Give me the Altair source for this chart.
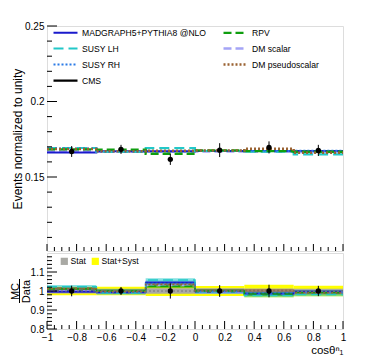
import altair as alt
import pandas as pd

# ---------------- data ----------------
edges = [-1.0, -0.6667, -0.3333, 0.0, 0.3333, 0.6667, 1.0]
centers = [-0.8333, -0.5, -0.1667, 0.1667, 0.5, 0.8333]

models = ["MADGRAPH5+PYTHIA8 @NLO", "RPV", "SUSY LH", "DM scalar", "SUSY RH", "DM pseudoscalar"]
# legend is filled column by column (2 columns, 4 rows)
legend_order = ["MADGRAPH5+PYTHIA8 @NLO", "SUSY LH", "SUSY RH", "CMS", "RPV", "DM scalar", "DM pseudoscalar"]
draw_order = ["DM scalar", "MADGRAPH5+PYTHIA8 @NLO", "SUSY LH", "SUSY RH", "RPV", "DM pseudoscalar"]

# normalized distributions (top panel)
mg = [0.1663, 0.1671, 0.1671, 0.1673, 0.1672, 0.1672]
rpv = [0.1683, 0.1681, 0.1654, 0.1676, 0.1671, 0.1667]
susy_lh = [0.1692, 0.1666, 0.1691, 0.1672, 0.1667, 0.1650]
dm_scalar = [0.1669, 0.1667, 0.1667, 0.1669, 0.1667, 0.1666]
susy_rh = [0.1689, 0.1670, 0.1671, 0.1673, 0.1672, 0.1673]
dm_pseudo = [0.1686, 0.1670, 0.1674, 0.1675, 0.1687, 0.1661]

cms = [0.1669, 0.1683, 0.1617, 0.1678, 0.1696, 0.1676]
cms_err = [0.0036, 0.0030, 0.0037, 0.0046, 0.0040, 0.0037]

# ratio panel (MC / Data)
r_mg = [0.998, 0.993, 1.045, 0.998, 0.985, 0.996]
r_rpv = [1.010, 1.000, 1.025, 1.000, 0.984, 0.992]
r_susy_lh = [1.022, 0.990, 1.058, 0.996, 0.976, 0.982]
r_dm_scalar = [1.002, 0.992, 1.030, 0.993, 0.985, 0.992]
r_susy_rh = [1.010, 0.995, 1.040, 0.998, 0.990, 0.996]
r_dm_pseudo = [1.012, 0.996, 1.036, 1.000, 1.002, 0.992]
r_band_half = [0.009, 0.009, 0.009, 0.009, 0.009, 0.009]

stat_half = [0.013, 0.012, 0.014, 0.014, 0.013, 0.012]
syst_half = [0.022, 0.023, 0.026, 0.026, 0.033, 0.028]
ratio_err = [0.028, 0.021, 0.040, 0.031, 0.033, 0.027]

# axis ticks
x_major = [-1, -0.8, -0.6, -0.4, -0.2, 0, 0.2, 0.4, 0.6, 0.8, 1]
x_minor = [-0.95, -0.9, -0.85, -0.75, -0.7, -0.65, -0.55, -0.5, -0.45, -0.35, -0.3, -0.25,
           -0.15, -0.1, -0.05, 0.05, 0.1, 0.15, 0.25, 0.3, 0.35, 0.45, 0.5, 0.55,
           0.65, 0.7, 0.75, 0.85, 0.9, 0.95]
y_top_major = [0.15, 0.2, 0.25]
y_top_minor = [0.11, 0.12, 0.13, 0.14, 0.16, 0.17, 0.18, 0.19, 0.21, 0.22, 0.23, 0.24]
y_bot_major = [0.8, 0.9, 1.0, 1.1]
y_bot_minor = [0.82, 0.84, 0.86, 0.88, 0.92, 0.94, 0.96, 0.98, 1.02, 1.04, 1.06, 1.08,
               1.12, 1.14, 1.16, 1.18]

# styles (same order as legend_order)
colors = ["#1a1acc", "#22c8c8", "#2a7ae6", "#000000", "#0f9e0f", "#a4a4f6", "#9a6232"]
dashes = [[1, 0], [10, 5], [2, 2], [1, 0], [8, 4], [8, 4], [2, 2]]
widths = [2, 2.5, 2, 1, 2.5, 3, 2]

W, H_TOP, H_BOT = 296, 225, 76
FONT = "Liberation Sans"

top_vals = dict(zip(models, [mg, rpv, susy_lh, dm_scalar, susy_rh, dm_pseudo]))
rat_vals = dict(zip(models, [r_mg, r_rpv, r_susy_lh, r_dm_scalar, r_susy_rh, r_dm_pseudo]))


def step_rows(vals_by_model):
    rows = []
    for m in draw_order:
        v = vals_by_model[m]
        for i in range(6):
            rows.append({"model": m, "x": edges[i], "v": v[i]})
        rows.append({"model": m, "x": edges[6], "v": v[5]})
    return pd.DataFrame(rows)


top_lines = step_rows(top_vals)
bot_lines = step_rows(rat_vals)

cms_df = pd.DataFrame({"x": centers, "v": cms,
                       "lo": [c - e for c, e in zip(cms, cms_err)],
                       "hi": [c + e for c, e in zip(cms, cms_err)]})
ratio_pts = pd.DataFrame({"x": centers, "v": [1.0] * 6,
                          "lo": [1 - e for e in ratio_err],
                          "hi": [1 + e for e in ratio_err]})

band_rows = []
for i in range(6):
    band_rows.append({"band": "Stat+Syst", "x": edges[i], "x2": edges[i + 1],
                      "lo": 1 - syst_half[i], "hi": 1 + syst_half[i]})
for i in range(6):
    band_rows.append({"band": "Stat", "x": edges[i], "x2": edges[i + 1],
                      "lo": 1 - stat_half[i], "hi": 1 + stat_half[i]})
bands_df = pd.DataFrame(band_rows)

mrows = []
for m in draw_order:
    for i in range(6):
        mrows.append({"model": m, "x": edges[i], "x2": edges[i + 1],
                      "lo": rat_vals[m][i] - r_band_half[i], "hi": rat_vals[m][i] + r_band_half[i]})
model_bands = pd.DataFrame(mrows)

# ---------------- scales / axes ----------------
xs = alt.Scale(domain=[-1, 1], nice=False, zero=False)
ys_top = alt.Scale(domain=[0.101, 0.25], nice=False, zero=False)
ys_bot = alt.Scale(domain=[0.8, 1.2], nice=False, zero=False)

ax_top_y = alt.Axis(values=y_top_major, format="~g", ticks=False, domain=False, grid=False,
                    labelPadding=3, labelFlush=False, labelOverlap=False,
                    title="Events normalized to unity", titleX=-26, titleBaseline="alphabetic",
                    titleFontSize=12, titleFontWeight="normal")
ax_bot_y = alt.Axis(values=y_bot_major, format="~g", ticks=False, domain=False, grid=False,
                    labelPadding=3, labelFlush=False, labelOverlap=False,
                    title=["MC", "Data"], titleX=-29, titleBaseline="alphabetic",
                    titleFontSize=11, titleLineHeight=11, titleFontWeight="normal")
ax_bot_x = alt.Axis(values=x_major, format="~g", ticks=False, domain=False, grid=False,
                    labelPadding=3, labelFlush=False, labelOverlap=False,
                    title="cosθⁿ₁", titleAnchor="end", titleAlign="right",
                    titleY=24, titleBaseline="alphabetic", titleFontSize=11.5,
                    titleFontWeight="normal")

leg_top = dict(orient="none", legendX=2, legendY=0, columns=2, title=None,
               symbolType="M-0.4,0H4.4", symbolSize=100, symbolStrokeWidth=2.2,
               labelFontSize=8.6, labelFont=FONT, labelOffset=20,
               columnPadding=11, rowPadding=4, padding=0, labelLimit=300)
color_top = alt.Color("model:N", scale=alt.Scale(domain=legend_order, range=colors),
                      legend=alt.Legend(**leg_top))
dash_top = alt.StrokeDash("model:N", scale=alt.Scale(domain=legend_order, range=dashes),
                          legend=alt.Legend(**leg_top))
width_enc = alt.StrokeWidth("model:N", scale=alt.Scale(domain=legend_order, range=widths), legend=None)

# ---------------- top panel ----------------
lines_t = alt.Chart(top_lines).mark_line(interpolate="step-after").encode(
    x=alt.X("x:Q", scale=xs, axis=None),
    y=alt.Y("v:Q", scale=ys_top, axis=ax_top_y),
    color=color_top, strokeDash=dash_top, strokeWidth=width_enc,
    detail="model:N",
)
err_t = alt.Chart(cms_df).mark_rule(color="black", strokeWidth=1).encode(
    x=alt.X("x:Q", scale=xs, axis=None),
    y=alt.Y("lo:Q", scale=ys_top, axis=ax_top_y), y2="hi:Q")
pts_t = alt.Chart(cms_df).mark_circle(color="black", size=28, opacity=1).encode(
    x=alt.X("x:Q", scale=xs, axis=None),
    y=alt.Y("v:Q", scale=ys_top, axis=ax_top_y))


def yticks(vals, scale, axis, length):
    return alt.Chart(pd.DataFrame({"t": vals})).mark_rule(color="black", strokeWidth=1).encode(
        y=alt.Y("t:Q", scale=scale, axis=axis), x=alt.value(0), x2=alt.value(length))


def xticks(vals, scale, axis, height, length):
    return alt.Chart(pd.DataFrame({"t": vals})).mark_rule(color="black", strokeWidth=1).encode(
        x=alt.X("t:Q", scale=scale, axis=axis), y=alt.value(height), y2=alt.value(height - length))


top = alt.layer(
    lines_t, err_t, pts_t,
    yticks(y_top_major, ys_top, ax_top_y, 10),
    yticks(y_top_minor, ys_top, ax_top_y, 5),
    xticks(x_major, xs, None, H_TOP, 7),
    xticks(x_minor, xs, None, H_TOP, 4),
).properties(width=W, height=H_TOP)

# ---------------- ratio panel ----------------
bands = alt.Chart(bands_df).mark_rect().encode(
    x=alt.X("x:Q", scale=xs, axis=ax_bot_x), x2="x2:Q",
    y=alt.Y("lo:Q", scale=ys_bot, axis=ax_bot_y), y2="hi:Q",
    fill=alt.Fill("band:N", scale=alt.Scale(domain=["Stat", "Stat+Syst"], range=["#a9a9a4", "#ffff00"]),
                  legend=alt.Legend(orient="none", legendX=13, legendY=4, direction="horizontal",
                                    title=None, symbolType="square", symbolSize=52,
                                    symbolStrokeWidth=0, symbolOpacity=1, labelFontSize=8.6,
                                    labelFont=FONT, labelOffset=2, columnPadding=5, padding=0)),
)
mbands = alt.Chart(model_bands).mark_rect(opacity=0.55).encode(
    x=alt.X("x:Q", scale=xs, axis=ax_bot_x), x2="x2:Q",
    y=alt.Y("lo:Q", scale=ys_bot, axis=ax_bot_y), y2="hi:Q",
    color=alt.Color("model:N", scale=alt.Scale(domain=legend_order, range=colors), legend=None),
)
lines_b = alt.Chart(bot_lines).mark_line(interpolate="step-after").encode(
    x=alt.X("x:Q", scale=xs, axis=ax_bot_x),
    y=alt.Y("v:Q", scale=ys_bot, axis=ax_bot_y),
    color=alt.Color("model:N", scale=alt.Scale(domain=legend_order, range=colors), legend=None),
    strokeDash=alt.StrokeDash("model:N", scale=alt.Scale(domain=legend_order, range=dashes), legend=None),
    strokeWidth=alt.StrokeWidth("model:N", scale=alt.Scale(domain=legend_order, range=[1.5] * 7), legend=None),
    detail="model:N",
)
one_line = alt.Chart(pd.DataFrame({"v": [1.0]})).mark_rule(color="#777777", strokeDash=[2, 2], strokeWidth=1).encode(
    y=alt.Y("v:Q", scale=ys_bot, axis=ax_bot_y))
err_b = alt.Chart(ratio_pts).mark_rule(color="black", strokeWidth=1).encode(
    x=alt.X("x:Q", scale=xs, axis=ax_bot_x),
    y=alt.Y("lo:Q", scale=ys_bot, axis=ax_bot_y), y2="hi:Q")
pts_b = alt.Chart(ratio_pts).mark_circle(color="black", size=28, opacity=1).encode(
    x=alt.X("x:Q", scale=xs, axis=ax_bot_x),
    y=alt.Y("v:Q", scale=ys_bot, axis=ax_bot_y))

# fraction bar of the "MC / Data" axis title
frac_bar = alt.Chart(pd.DataFrame({"k": [0]})).mark_rule(color="black", strokeWidth=1).encode(
    x=alt.value(-27.5), y=alt.value(26), y2=alt.value(50))

bottom = alt.layer(
    bands, mbands, lines_b, one_line, err_b, pts_b,
    yticks(y_bot_major, ys_bot, ax_bot_y, 10),
    yticks(y_bot_minor, ys_bot, ax_bot_y, 5),
    xticks(x_major, xs, ax_bot_x, H_BOT, 8),
    xticks(x_minor, xs, ax_bot_x, H_BOT, 4),
    frac_bar,
).properties(width=W, height=H_BOT)

chart = alt.vconcat(top, bottom, spacing=0).resolve_scale(
    x="independent", y="independent", color="independent", strokeDash="independent",
    strokeWidth="independent", fill="independent",
).properties(
    padding={"left": 0, "top": 12, "right": 5, "bottom": 0}
).configure_view(
    stroke="black", strokeWidth=1
).configure_axis(
    labelFont=FONT, titleFont=FONT, labelFontSize=9, labelColor="black",
    titleColor="black", titleFontWeight="normal"
).configure(background="white")

chart.save("out.html", embed_options={"renderer": "svg", "actions": False})
